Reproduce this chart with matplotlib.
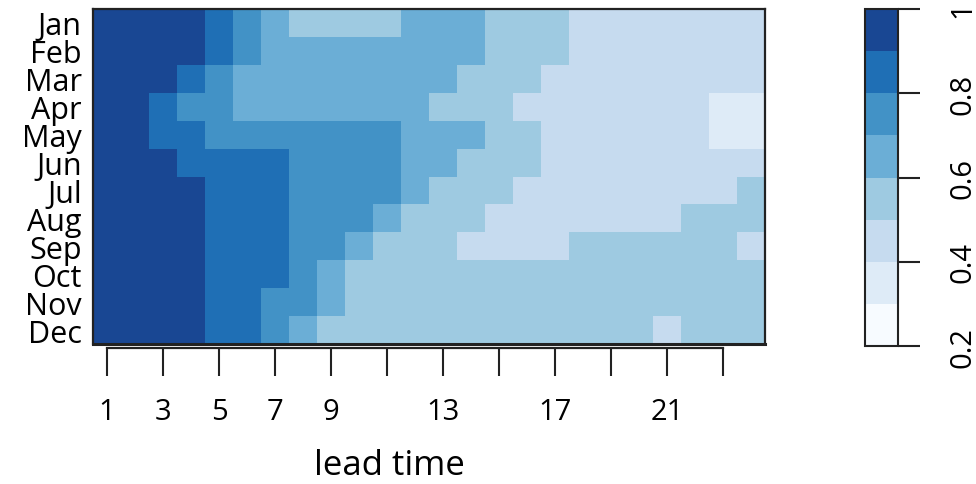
import numpy as np
import matplotlib
matplotlib.use('Agg')
import matplotlib.pyplot as plt
from matplotlib.colors import ListedColormap, BoundaryNorm

plt.rcParams['font.family'] = ['Open Sans', 'DejaVu Sans']

months = ['Jan', 'Feb', 'Mar', 'Apr', 'May', 'Jun', 'Jul', 'Aug', 'Sep', 'Oct', 'Nov', 'Dec']
lead_times = list(range(1, 25))
tick_pos = [1, 3, 5, 7, 9, 11, 13, 15, 17, 19, 21, 23]
tick_lab = ['1', '3', '5', '7', '9', '', '13', '', '17', '', '21', '']

# skill per month (rows) and lead time (columns)
skill = [
    [0.95, 0.95, 0.95, 0.95, 0.85, 0.75, 0.65, 0.55, 0.55, 0.55, 0.55, 0.65, 0.65, 0.65, 0.55, 0.55, 0.55, 0.45, 0.45, 0.45, 0.45, 0.45, 0.45, 0.45],
    [0.95, 0.95, 0.95, 0.95, 0.85, 0.75, 0.65, 0.65, 0.65, 0.65, 0.65, 0.65, 0.65, 0.65, 0.55, 0.55, 0.55, 0.45, 0.45, 0.45, 0.45, 0.45, 0.45, 0.45],
    [0.95, 0.95, 0.95, 0.85, 0.75, 0.65, 0.65, 0.65, 0.65, 0.65, 0.65, 0.65, 0.65, 0.55, 0.55, 0.55, 0.45, 0.45, 0.45, 0.45, 0.45, 0.45, 0.45, 0.45],
    [0.95, 0.95, 0.85, 0.75, 0.75, 0.65, 0.65, 0.65, 0.65, 0.65, 0.65, 0.65, 0.55, 0.55, 0.55, 0.45, 0.45, 0.45, 0.45, 0.45, 0.45, 0.45, 0.35, 0.35],
    [0.95, 0.95, 0.85, 0.85, 0.75, 0.75, 0.75, 0.75, 0.75, 0.75, 0.75, 0.65, 0.65, 0.65, 0.55, 0.55, 0.45, 0.45, 0.45, 0.45, 0.45, 0.45, 0.35, 0.35],
    [0.95, 0.95, 0.95, 0.85, 0.85, 0.85, 0.85, 0.75, 0.75, 0.75, 0.75, 0.65, 0.65, 0.55, 0.55, 0.55, 0.45, 0.45, 0.45, 0.45, 0.45, 0.45, 0.45, 0.45],
    [0.95, 0.95, 0.95, 0.95, 0.85, 0.85, 0.85, 0.75, 0.75, 0.75, 0.75, 0.65, 0.55, 0.55, 0.55, 0.45, 0.45, 0.45, 0.45, 0.45, 0.45, 0.45, 0.45, 0.55],
    [0.95, 0.95, 0.95, 0.95, 0.85, 0.85, 0.85, 0.75, 0.75, 0.75, 0.65, 0.55, 0.55, 0.55, 0.45, 0.45, 0.45, 0.45, 0.45, 0.45, 0.45, 0.55, 0.55, 0.55],
    [0.95, 0.95, 0.95, 0.95, 0.85, 0.85, 0.85, 0.75, 0.75, 0.65, 0.55, 0.55, 0.55, 0.45, 0.45, 0.45, 0.45, 0.55, 0.55, 0.55, 0.55, 0.55, 0.55, 0.45],
    [0.95, 0.95, 0.95, 0.95, 0.85, 0.85, 0.85, 0.75, 0.65, 0.55, 0.55, 0.55, 0.55, 0.55, 0.55, 0.55, 0.55, 0.55, 0.55, 0.55, 0.55, 0.55, 0.55, 0.55],
    [0.95, 0.95, 0.95, 0.95, 0.85, 0.85, 0.75, 0.75, 0.65, 0.55, 0.55, 0.55, 0.55, 0.55, 0.55, 0.55, 0.55, 0.55, 0.55, 0.55, 0.55, 0.55, 0.55, 0.55],
    [0.95, 0.95, 0.95, 0.95, 0.85, 0.85, 0.75, 0.65, 0.55, 0.55, 0.55, 0.55, 0.55, 0.55, 0.55, 0.55, 0.55, 0.55, 0.55, 0.55, 0.45, 0.55, 0.55, 0.55],
]

levels = [0.2, 0.3, 0.4, 0.5, 0.6, 0.7, 0.8, 0.9, 1.0]
colors = ['#F7FBFF', '#DEEBF7', '#C6DBEF', '#9ECAE1', '#6BAED6', '#4292C6', '#1F6FB5', '#194793']
cbar_ticks = [0.2, 0.4, 0.6, 0.8, 1.0]
cbar_lab = ['0.2', '0.4', '0.6', '0.8', '1']

cmap = ListedColormap(colors)
norm = BoundaryNorm(levels, cmap.N)

W, H = 976, 485
fig = plt.figure(figsize=(W / 100, H / 100), dpi=100)
ax = fig.add_axes([93 / W, 1 - 345 / H, 672 / W, 335 / H])
cax = fig.add_axes([865 / W, 1 - 347 / H, 33 / W, 337 / H])

x_edges = np.arange(len(lead_times) + 1) + 0.5
y_edges = np.arange(len(months) + 1) + 0.5
mesh = ax.pcolormesh(x_edges, y_edges, np.array(skill), cmap=cmap, norm=norm)
ax.set_xlim(x_edges[0], x_edges[-1])
ax.set_ylim(y_edges[-1], y_edges[0])

# R style bottom axis, a bit below the box
ax.spines['bottom'].set_position(('outward', 3))
ax.spines['bottom'].set_bounds(tick_pos[0], tick_pos[-1])
ax.axhline(y_edges[-1], color='#222222', lw=2.2, clip_on=False)
for s in ['top', 'left', 'right', 'bottom']:
    ax.spines[s].set_linewidth(1.6)
    ax.spines[s].set_color('#222222')

ax.set_xticks(tick_pos)
ax.set_xticklabels(tick_lab)
ax.tick_params(axis='x', length=20, width=1.5, pad=15, color='#222222', labelsize=21)

# month labels, no tick marks
ax.set_yticks(np.arange(1, len(months) + 1))
ax.set_yticklabels(months)
ax.tick_params(axis='y', length=0, pad=8, labelsize=22)

ax.set_xlabel('lead time', fontsize=25)
ax.xaxis.label.set_va('center')
ax.xaxis.set_label_coords((389 - 93) / 672, (345 - 466) / 335)

cb = fig.colorbar(mesh, cax=cax, ticks=cbar_ticks)
cb.outline.set_linewidth(1.5)
cb.outline.set_edgecolor('#222222')
cax.minorticks_off()
cax.set_yticklabels(cbar_lab, rotation=90, va='center')
cax.tick_params(length=16, width=1.5, pad=20, color='#222222', labelsize=21)

fig.savefig('out.png', dpi=100)
